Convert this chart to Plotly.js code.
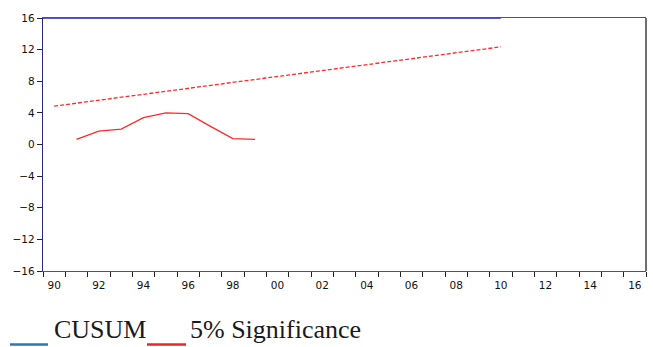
<!DOCTYPE html>
<html>
<head>
<meta charset="utf-8">
<script src="https://cdn.plot.ly/plotly-3.0.1.min.js"></script>
<style>html,body{margin:0;padding:0;background:#fff;}#chart{width:653px;height:347px;}</style>
</head>
<body>
<div id="chart"></div>
<script>
// Data
const cusumYears = [1991, 1992, 1993, 1994, 1995, 1996, 1997, 1998, 1999];
const cusumValues = [0.65, 1.7, 1.95, 3.4, 4.0, 3.9, 2.3, 0.75, 0.65];
const sigYears = [1990, 2010];
const sigValues = [4.85, 12.35];
const topYears = [1989.5, 2010];
const topValues = [16, 16];
const xTickYears = [1990, 1992, 1994, 1996, 1998, 2000, 2002, 2004, 2006, 2008, 2010, 2012, 2014, 2016];
const xTickLabels = ['90', '92', '94', '96', '98', '00', '02', '04', '06', '08', '10', '12', '14', '16'];
const yTicks = [-16, -12, -8, -4, 0, 4, 8, 12, 16];
const legendLabels = ['CUSUM', '5% Significance'];

const L = 43, R = 7, T = 18, B = 76, W = 653, H = 347;
const pw = W - L - R, ph = H - T - B;
const px = v => (v - L) / pw;
const py = v => (H - B - v) / ph;

const traces = [
  {x: sigYears, y: sigValues, mode: 'lines', line: {color: '#ff2a2a', width: 1.3, dash: '4px,2px'}, hoverinfo: 'skip'},
  {x: cusumYears, y: cusumValues, mode: 'lines', line: {color: '#ff2a2a', width: 1.3}, hoverinfo: 'skip'},
  {x: topYears, y: topValues, mode: 'lines', line: {color: '#2222b8', width: 1.6}, hoverinfo: 'skip', cliponaxis: false}
];

const tickFont = {family: 'DejaVu Sans', size: 10.5, color: '#111'};

const layout = {
  width: W, height: H,
  margin: {l: L, r: R, t: T, b: B, pad: 0},
  paper_bgcolor: '#fff', plot_bgcolor: '#fff',
  showlegend: false,
  xaxis: {
    range: [1989.5, 2016.5], tickmode: 'array', tickvals: xTickYears, ticktext: xTickLabels,
    ticks: '', showgrid: false, zeroline: false, showline: true, linecolor: '#555', linewidth: 1.2,
    mirror: true, tickfont: tickFont, ticklabelstandoff: 4,
    minor: {tick0: 1989.5, dtick: 1, ticks: 'outside', ticklen: 5, tickwidth: 1, tickcolor: '#222', showgrid: false}
  },
  yaxis: {
    range: [-16, 16], tickmode: 'array', tickvals: yTicks, ticks: 'outside', ticklen: 5, tickwidth: 1,
    tickcolor: '#222', showgrid: false, zeroline: false, showline: true, linecolor: '#2a2a80', linewidth: 1.2,
    tickfont: tickFont
  },
  shapes: [
    {type: 'line', xref: 'paper', yref: 'paper', x0: 1, x1: 1, y0: 0, y1: 1, line: {color: '#333', width: 1.4}},
    {type: 'line', xref: 'paper', yref: 'paper', x0: px(10), x1: px(48), y0: py(344.5), y1: py(344.5), line: {color: '#2e75b6', width: 2.5}},
    {type: 'line', xref: 'paper', yref: 'paper', x0: px(147), x1: px(186), y0: py(344.5), y1: py(344.5), line: {color: '#e8252a', width: 2.5}}
  ],
  annotations: [
    {xref: 'paper', yref: 'paper', x: px(52), y: py(329), xanchor: 'left', yanchor: 'middle', showarrow: false,
     text: legendLabels[0], font: {family: 'Liberation Serif', size: 26, color: '#1a1a1a'}},
    {xref: 'paper', yref: 'paper', x: px(188), y: py(329), xanchor: 'left', yanchor: 'middle', showarrow: false,
     text: legendLabels[1], font: {family: 'Liberation Serif', size: 26, color: '#1a1a1a'}}
  ]
};

Plotly.newPlot('chart', traces, layout, {staticPlot: true, displayModeBar: false});
</script>
</body>
</html>
